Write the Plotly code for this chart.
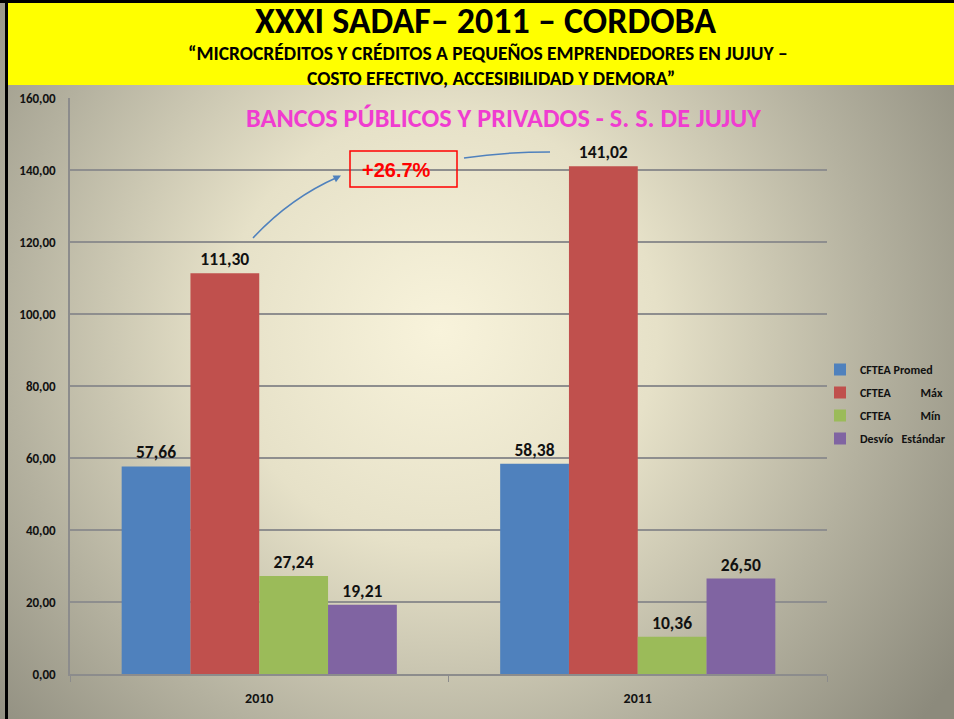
import base64
import plotly.graph_objects as go

categories = ["2010", "2011"]
series_names = ["CFTEA Promed", "CFTEA\u00a0\u00a0\u00a0\u00a0\u00a0\u00a0\u00a0\u00a0\u00a0\u00a0\u00a0Máx",
                "CFTEA\u00a0\u00a0\u00a0\u00a0\u00a0\u00a0\u00a0\u00a0\u00a0\u00a0\u00a0Mín", "Desvío\u00a0\u00a0\u00a0Estándar"]
promed = [57.66, 58.38]
maximo = [111.30, 141.02]
minimo = [27.24, 10.36]
desvio = [19.21, 26.50]
colors = ["#4F81BD", "#C0504D", "#9BBB59", "#8064A2"]

W, H = 954, 719
L, R, T, B = 70, 827, 98, 674
PW, PH = R - L, B - T

def px(x):
    return (x - L) / PW

def py(y):
    return (B - y) / PH

FONT = "Carlito, 'Liberation Sans Narrow', Roboto, sans-serif"

fig = go.Figure()
for name, vals, col in zip(series_names, [promed, maximo, minimo, desvio], colors):
    fig.add_trace(go.Bar(
        x=categories, y=vals, name=name, marker=dict(color=col, line=dict(width=0)),
        text=vals, texttemplate="%{y:.2f}", textposition="outside",
        textfont=dict(size=17.5, color="#111", family=FONT, weight="bold"),
        cliponaxis=False, legendgroup=name,
    ))

svg = f'''<svg xmlns="http://www.w3.org/2000/svg" width="{W}" height="{H}" viewBox="0 0 {W} {H}" preserveAspectRatio="none">
<defs><radialGradient id="g" gradientUnits="userSpaceOnUse" cx="440" cy="330" r="620">
<stop offset="0" stop-color="#F8F3DB"/><stop offset="0.35" stop-color="#E6E1C8"/>
<stop offset="0.7" stop-color="#B4B19F"/><stop offset="1" stop-color="#8C8A7C"/></radialGradient></defs>
<rect x="0" y="0" width="{W}" height="{H}" fill="url(#g)"/></svg>'''
src = "data:image/svg+xml;base64," + base64.b64encode(svg.encode()).decode()

shapes = [
    dict(type="rect", xref="paper", yref="paper", x0=px(8), x1=px(W), y0=py(85), y1=py(0),
         fillcolor="#FFFF00", line=dict(width=0), layer="above"),
    dict(type="line", xref="paper", yref="paper", x0=px(6.5), x1=px(6.5), y0=py(0), y1=py(H),
         line=dict(color="black", width=3), layer="above"),
    dict(type="line", xref="paper", yref="paper", x0=px(0), x1=px(W), y0=py(1.5), y1=py(1.5),
         line=dict(color="black", width=3), layer="above"),
    dict(type="rect", xref="paper", yref="paper", x0=px(350), x1=px(457), y0=py(187), y1=py(151),
         line=dict(color="#FF0000", width=1.5), layer="above"),
    dict(type="path", xref="paper", yref="paper",
         path=f"M {px(253)},{py(238)} Q {px(290)},{py(198)} {px(338)},{py(177)}",
         line=dict(color="#4F81BD", width=1.5), layer="above"),
    dict(type="path", xref="paper", yref="paper",
         path=f"M {px(464)},{py(158)} Q {px(505)},{py(152)} {px(550)},{py(152)}",
         line=dict(color="#4F81BD", width=1.5), layer="above"),
]

def txt(text, x, y, size, color, family=FONT):
    return dict(text=text, x=px(x), y=py(y), xref="paper", yref="paper", showarrow=False,
                xanchor="center", yanchor="middle", borderpad=0,
                font=dict(size=size, color=color, family=family))

annotations = [
    txt("<b>XXXI SADAF– 2011 – CORDOBA</b>", 485, 21, 36, "black"),
    txt("<b>“MICROCRÉDITOS Y CRÉDITOS A PEQUEÑOS EMPRENDEDORES EN JUJUY –</b>", 488, 53, 19.5, "black"),
    txt("<b>COSTO EFECTIVO, ACCESIBILIDAD Y DEMORA”</b>", 491, 78.5, 19.5, "black"),
    txt("<b>BANCOS PÚBLICOS Y PRIVADOS - S. S. DE JUJUY</b>", 503, 118, 26.3, "#F03CD0"),
    txt("<b>+26.7%</b>", 396, 170, 20, "#FF0000", "Liberation Sans, Arial, sans-serif"),
    dict(text="", x=px(341), y=py(175.5), xref="paper", yref="paper", showarrow=True,
         ax=-8, ay=4, arrowhead=2, arrowsize=1, arrowwidth=1.5, arrowcolor="#4F81BD"),
]

fig.update_layout(
    width=W, height=H,
    margin=dict(l=L, r=W - R, t=T, b=H - B, pad=0, autoexpand=False),
    barmode="group", bargap=0.273, bargroupgap=0,
    separators=",.",
    paper_bgcolor="#B8B5A3", plot_bgcolor="rgba(0,0,0,0)",
    images=[dict(source=src, xref="paper", yref="paper", x=px(0), y=py(0), sizex=W / PW, sizey=H / PH,
                 xanchor="left", yanchor="top", sizing="stretch", layer="below")],
    shapes=shapes, annotations=annotations,
    showlegend=True,
    legend=dict(x=px(820), y=py(355), xanchor="left", yanchor="top", bgcolor="rgba(0,0,0,0)",
                font=dict(size=12, color="#111", family=FONT, weight="bold"),
                traceorder="grouped", tracegroupgap=4, itemwidth=30),
    font=dict(family=FONT),
    xaxis=dict(showline=True, linecolor="#8C8C8C", linewidth=1.5, ticks="outside", tickson="boundaries",
               ticklen=6, tickcolor="#8C8C8C", tickwidth=1, ticklabelstandoff=10,
               tickfont=dict(size=14, color="#111", family=FONT, weight="bold"), showgrid=False),
    yaxis=dict(range=[0, 160], dtick=20, tickformat=".2f", showline=True, linecolor="#8C8C8C",
               linewidth=1.5, showgrid=True, gridcolor="#8E8E8E", gridwidth=1.5, ticks="",
               ticklabelstandoff=10, zeroline=False,
               tickfont=dict(size=13, color="#111", family=FONT, weight="bold")),
)

fig.write_html("out.html", config={"displayModeBar": False},
               post_script="document.body.style.margin='0';document.body.style.overflow='hidden';")
